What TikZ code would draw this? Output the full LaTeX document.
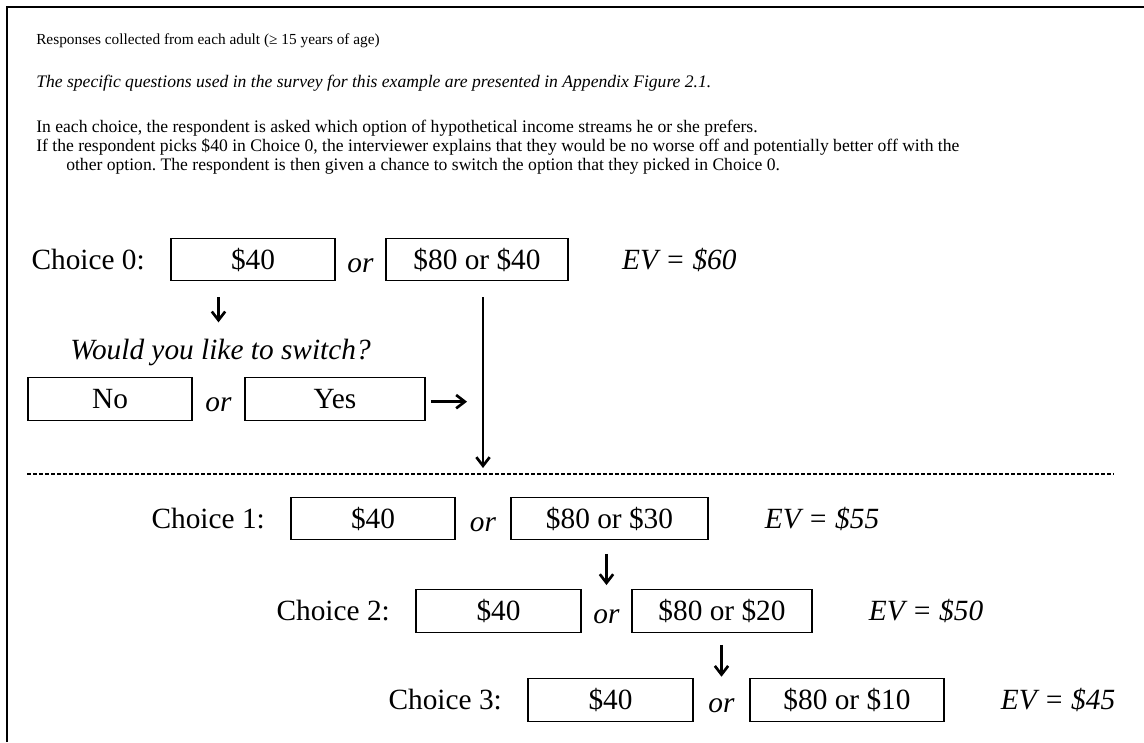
\documentclass[tikz,border=0pt]{standalone}
\usepackage{fontspec}
\setmainfont{Liberation Serif}
\usetikzlibrary{arrows.meta,positioning,calc}
\frenchspacing

\begin{document}
\begin{tikzpicture}[x=0.75pt, y=-0.75pt, >={Straight Barb[length=6.5pt,width=10pt]},
  bx/.style={draw, line width=0.9pt, minimum height=32pt, inner sep=0pt, font=\fontsize{22}{26}\selectfont},
  lb/.style={inner sep=0pt, font=\fontsize{22}{26}\selectfont},
  it/.style={inner sep=0pt, font=\fontsize{22}{26}\selectfont\itshape},
  nt/.style={anchor=base west, inner sep=0pt, font=\fontsize{13.2}{15}\selectfont},
  e/.style={->, line width=2pt}]
\useasboundingbox (0,0) rectangle (1144,742);
\draw[line width=1.1pt] (7,742) -- (7,7) -- (1144,7);

% header text
\node[nt, font=\fontsize{11.5}{14}\selectfont] (hd) at (36,45) {Responses collected from each adult (≥ 15 years of age)};
\node[nt, font=\fontsize{13.2}{15}\selectfont\itshape] (sq) at (36,88) {The specific questions used in the survey for this example are presented in Appendix Figure 2.1.};
\node[nt] (ec) at (36,132) {In each choice, the respondent is asked which option of hypothetical income streams he or she prefers.};
\node[nt] (pk) at (36,151) {If the respondent picks \$40 in Choice 0, the interviewer explains that they would be no worse off and potentially better off with the};
\node[nt] (ot) at (66,170) {other option. The respondent is then given a chance to switch the option that they picked in Choice 0.};

% choice 0
\node[bx, minimum width=123pt] (b0a) at (253,259.5) {\$40};
\node[bx, minimum width=136.5pt] (b0b) at (477,259.5) {\$80 or \$40};
\node[lb, base left=19pt of b0a] (c0) {Choice 0:};
\node[it, base right=40pt of b0b] (ev0) {EV = \$60};
\node[it, anchor=base, yshift=-2.25pt] (o0) at ($(b0a.base east)!0.5!(b0b.base west)$) {or};

% switch question
\node[it, anchor=base west] (qs) at (70,359) {Would you like to switch?};
\node[bx, minimum width=123pt] (no) at (110,399) {No};
\node[bx, minimum width=135pt] (ys) at (335,399) {Yes};
\node[it, anchor=base, yshift=-2.25pt] (oq) at ($(no.base east)!0.5!(ys.base west)$) {or};

% separator
\coordinate (dl) at (27,474);
\coordinate (dr) at (1114,474);
\draw[line width=0.8pt, dash pattern=on 3pt off 1.5pt] (dl) -- (dr);

% choice 1
\node[bx, minimum width=123pt] (b1a) at (373,518.5) {\$40};
\node[bx, minimum width=147.75pt] (b1b) at (609.5,518.5) {\$80 or \$30};
\node[lb, base left=19pt of b1a] (c1) {Choice 1:};
\node[it, base right=42pt of b1b] (ev1) {EV = \$55};
\node[it, anchor=base, yshift=-2.25pt] (o1) at ($(b1a.base east)!0.5!(b1b.base west)$) {or};

% choice 2
\node[bx, minimum width=123.75pt] (b2a) at (498.5,611) {\$40};
\node[bx, minimum width=135pt] (b2b) at (722,611) {\$80 or \$20};
\node[lb, base left=19pt of b2a] (c2) {Choice 2:};
\node[it, base right=42pt of b2b] (ev2) {EV = \$50};
\node[it, anchor=base, yshift=-2.25pt] (o2) at ($(b2a.base east)!0.5!(b2b.base west)$) {or};

% choice 3
\node[bx, minimum width=123.75pt] (b3a) at (610.5,700) {\$40};
\node[bx, minimum width=145.5pt] (b3b) at (847,700) {\$80 or \$10};
\node[lb, base left=19pt of b3a] (c3) {Choice 3:};
\node[it, base right=42pt of b3b] (ev3) {EV = \$45};
\node[it, anchor=base, yshift=-2.25pt] (o3) at ($(b3a.base east)!0.5!(b3b.base west)$) {or};

% arrows
\draw[e, shorten <=12pt, shorten >=12pt] (b0a.south -| oq) -- (qs.north -| oq);
\draw[e, shorten <=12pt, shorten >=4.5pt] (b0b.south -| o1) -- (dl -| o1);
\draw[e, shorten <=4pt, shorten >=12pt] ([yshift=-2pt]ys.east) -- ([yshift=-2pt]ys.east -| o1);
\draw[e, shorten <=10pt, shorten >=3pt] (b1b.south -| o2) -- (b2a.north -| o2);
\draw[e, shorten <=9pt, shorten >=1pt] (b2b.south -| o3) -- (b3a.north -| o3);
\end{tikzpicture}
\end{document}
